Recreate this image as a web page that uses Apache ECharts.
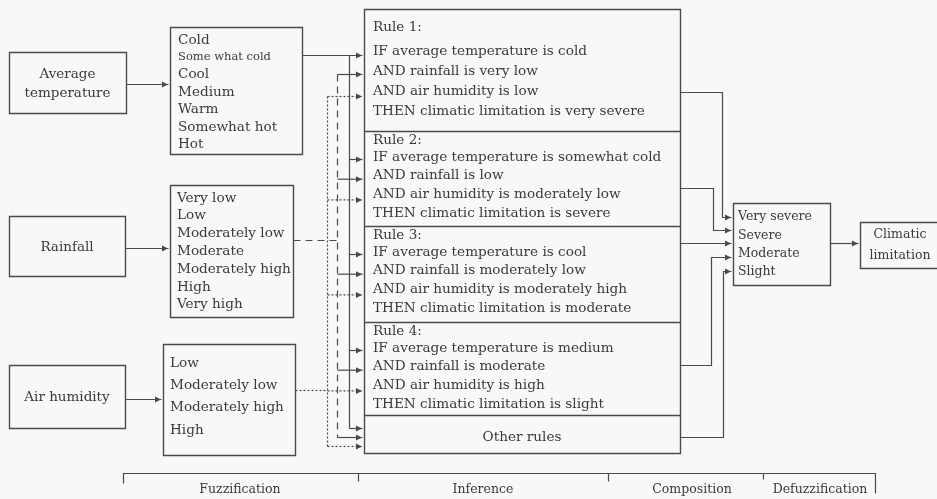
<!DOCTYPE html>
<html><head><meta charset="utf-8">
<script src="https://cdn.jsdelivr.net/npm/echarts@6/dist/echarts.min.js"></script>
<style>html,body{margin:0;padding:0;background:#f8f8f6}#c{width:937px;height:499px}</style>
</head><body><div id="c"></div>
<script>
// ---- content ----
const inputs = ['Average\ntemperature', 'Rainfall', 'Air humidity'];
const tempClasses = ['Cold', 'Some what cold', 'Cool', 'Medium', 'Warm', 'Somewhat hot', 'Hot'];
const rainClasses = ['Very low', 'Low', 'Moderately low', 'Moderate', 'Moderately high', 'High', 'Very high'];
const humidClasses = ['Low', 'Moderately low', 'Moderately high', 'High'];
const rules = [
  ['Rule 1:', 'IF average temperature is cold', 'AND rainfall is very low', 'AND air humidity is low', 'THEN climatic limitation is very severe'],
  ['Rule 2:', 'IF average temperature is somewhat cold', 'AND rainfall is low', 'AND air humidity is moderately low', 'THEN climatic limitation is severe'],
  ['Rule 3:', 'IF average temperature is cool', 'AND rainfall is moderately low', 'AND air humidity is moderately high', 'THEN climatic limitation is moderate'],
  ['Rule 4:', 'IF average temperature is medium', 'AND rainfall is moderate', 'AND air humidity is high', 'THEN climatic limitation is slight']
];
const otherRules = 'Other rules';
const outputClasses = ['Very severe', 'Severe', 'Moderate', 'Slight'];
const outputLabel = 'Climatic\nlimitation';
const phases = ['Fuzzification', 'Inference', 'Composition', 'Defuzzification'];

// ---- drawing ----
const INK = '#4a4a4a', TXT = '#3a3a3a';
const FF = '"DejaVu Serif", serif';
const els = [];
function box(x, y, w, h) {
  els.push({type: 'rect', silent: true, shape: {x: x + 0.5, y: y + 0.5, width: w, height: h},
    style: {stroke: INK, fill: 'transparent', lineWidth: 1.4}});
}
function txt(x, y, s, size, align, lh) {
  els.push({type: 'text', silent: true, x: x, y: y,
    style: {text: s, font: size + 'px ' + FF, fill: TXT, textAlign: align || 'left',
      textVerticalAlign: 'middle', lineHeight: lh || size + 4}});
}
function line(pts, dash, w) {
  els.push({type: 'polyline', silent: true,
    shape: {points: pts.map(p => [p[0] + 0.5, p[1] + 0.5])},
    style: {stroke: INK, lineWidth: w || 1.2, fill: null, lineDash: dash || null}});
}
function arrow(x, y) {
  els.push({type: 'polygon', silent: true,
    shape: {points: [[x, y + 0.5], [x - 6, y - 2.5], [x - 6, y + 3.5]]}, style: {fill: INK}});
}
function link(pts, dash) { line(pts, dash); const p = pts[pts.length - 1]; arrow(p[0], p[1]); }

const FS = 13.6;
// input boxes
const inBoxes = [[9, 52, 117, 61], [9, 216, 116, 60], [9, 365, 116, 63]];
inputs.forEach((s, i) => {
  const b = inBoxes[i]; box(b[0], b[1], b[2], b[3]);
  txt(b[0] + b[2] / 2, b[1] + b[3] / 2 + 1, s, 13.5, 'center', 19);
});
// class boxes
box(170, 27, 132, 127);
tempClasses.forEach((s, i) => txt(178, 40 + i * 17.4, s, i === 1 ? 11.5 : FS));
box(170, 185, 123, 132);
rainClasses.forEach((s, i) => txt(177, 198 + i * 17.8, s, FS));
box(163, 344, 132, 111);
humidClasses.forEach((s, i) => txt(170, 363 + i * 22.4, s, FS));
link([[126, 84], [168, 84]]);
link([[125, 248], [168, 248]]);
link([[125, 399], [161, 399]]);

// rule box
const RX = 364, RW = 316;
const segs = [9, 131, 226, 322, 415, 453];
box(RX, segs[0], RW, segs[5] - segs[0]);
for (let k = 1; k < 5; k++) line([[RX, segs[k]], [RX + RW, segs[k]]], null, 1.4);
const ruleRows = [];
rules.forEach((r, i) => {
  const t = i === 0 ? 27 : segs[i] + 9;
  const first = i === 0 ? 24 : 17, step = i === 0 ? 20 : 18.7;
  const ys = r.map((_, j) => j === 0 ? t : t + first + (j - 1) * step);
  ruleRows.push(ys);
  r.forEach((s, j) => txt(373, ys[j], s, FS));
});
txt(RX + RW / 2, 437, otherRules, FS, 'center');

// left connectors: temperature (solid), rainfall (dashed), humidity (dotted)
const XT = 349, XR = 337, XH = 327;
link([[302, 55], [362, 55]]);
line([[XT, 55], [XT, 428]]);
ruleRows.slice(1).forEach(ys => link([[XT, ys[1] + 2], [362, ys[1] + 2]]));
link([[XT, 428], [362, 428]]);

line([[293, 240], [XR, 240]], [7, 5]);
line([[XR, ruleRows[0][2] + 3], [XR, 437]], [7, 5]);
ruleRows.forEach(ys => link([[XR, ys[2] + 3], [362, ys[2] + 3]]));
link([[XR, 437], [362, 437]]);

line([[295, 390], [XH, 390]], [2, 2]);
line([[XH, ruleRows[0][3] + 5], [XH, 446]], [2, 2]);
ruleRows.forEach(ys => link([[XH, ys[3] + 5], [362, ys[3] + 5]], [2, 2]));
link([[XH, 446], [362, 446]], [2, 2]);

// right connectors
link([[680, 92], [722, 92], [722, 217], [731, 217]]);
link([[680, 188], [713, 188], [713, 230], [731, 230]]);
link([[680, 243], [731, 243]]);
link([[680, 365], [711, 365], [711, 257], [731, 257]]);
link([[680, 437], [723, 437], [723, 271], [731, 271]]);

// output classes
box(733, 203, 97, 82);
outputClasses.forEach((s, i) => txt(738, 217 + i * 18.3, s, 12.5));
link([[830, 243], [858, 243]]);
box(860, 222, 90, 46);
txt(900, 245, outputLabel, 12.5, 'center', 21);

// phase bracket
line([[123, 483], [123, 473], [875, 473], [875, 493]]);
[358, 608].forEach(x => line([[x, 473], [x, 481]]));
line([[763, 473], [763, 479]]);
const phaseX = [240, 483, 692, 820];
phases.forEach((s, i) => txt(phaseX[i], 490, s, 12.5, 'center'));

const chart = echarts.init(document.getElementById('c'), null, {renderer: 'canvas'});
chart.setOption({backgroundColor: '#f8f8f6', animation: false, graphic: {elements: els}});
</script></body></html>
